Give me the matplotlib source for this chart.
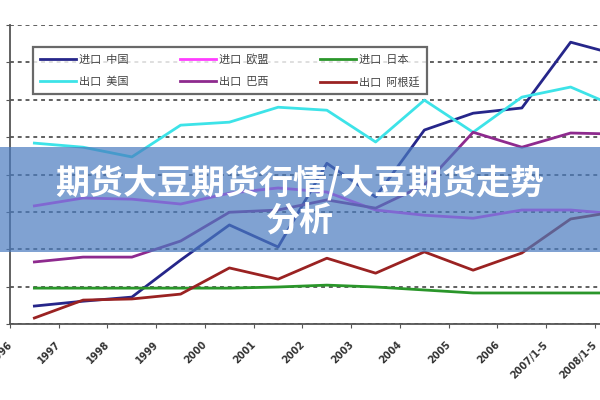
import matplotlib
matplotlib.use("Agg")
import matplotlib.pyplot as plt
from matplotlib.patches import Rectangle
from matplotlib.transforms import ScaledTranslation
import numpy as np

plt.rcParams['font.family'] = ['Noto Sans CJK SC', 'DejaVu Sans']

categories = ["1996", "1997", "1998", "1999", "2000", "2001", "2002",
              "2003", "2004", "2005", "2006", "2007/1-5", "2008/1-5"]

import_china = [0.48, 0.61, 0.72, 1.71, 2.65, 2.06, 4.30, 3.40, 5.19, 5.64, 5.78, 7.54, 7.19]
import_eu = [3.16, 3.37, 3.34, 3.21, 3.50, 3.64, 3.53, 3.05, 2.91, 2.83, 3.05, 3.05, 2.94]
import_japan = [0.96, 0.96, 0.96, 0.96, 0.96, 0.99, 1.04, 0.99, 0.91, 0.83, 0.83, 0.83, 0.83]
export_us = [4.84, 4.73, 4.47, 5.32, 5.40, 5.80, 5.72, 4.87, 5.99, 5.13, 6.07, 6.34, 5.78]
export_brazil = [1.66, 1.79, 1.79, 2.22, 2.99, 3.05, 3.32, 3.10, 3.72, 5.13, 4.73, 5.11, 5.08]
export_argentina = [0.16, 0.64, 0.67, 0.80, 1.50, 1.20, 1.76, 1.36, 1.93, 1.44, 1.90, 2.81, 3.02]

labels = {
    "cn": "进口  中国", "eu": "进口  欧盟", "jp": "进口  日本",
    "us": "出口  美国", "br": "出口  巴西", "ar": "出口  阿根廷",
}
title_text = "期货大豆期货行情/大豆期货走势\n分析"

fig = plt.figure(figsize=(6, 4), dpi=100)
fig.patch.set_facecolor("white")
ax = fig.add_axes([10 / 600, 76 / 400, 633.75 / 600, 299 / 400])

x = np.arange(len(categories))
lw = 2.0
h_cn, = ax.plot(x, import_china, color="#26268a", lw=lw, label=labels["cn"])
h_us, = ax.plot(x, export_us, color="#3de3e8", lw=lw, label=labels["us"])
h_eu, = ax.plot(x, import_eu, color="#ff3cff", lw=lw, label=labels["eu"])
h_br, = ax.plot(x, export_brazil, color="#8e2a8e", lw=lw, label=labels["br"])
h_jp, = ax.plot(x, import_japan, color="#2a962a", lw=lw, label=labels["jp"])
h_ar, = ax.plot(x, export_argentina, color="#9a2222", lw=lw, label=labels["ar"])

ax.set_xlim(-0.5, len(categories) - 0.5)
ax.set_ylim(0, 8)
ax.set_yticks(range(9))
ax.set_yticklabels([])
ax.yaxis.grid(True, linestyle=(0, (2, 2)), color="#606060", linewidth=1.4)
ax.set_axisbelow(True)
ax.tick_params(axis="y", length=3, color="#555555", direction="out")

ax.set_xticks(x - 0.5)
ax.set_xticklabels(categories, rotation=45, ha="right", va="top",
                   rotation_mode="anchor", fontsize=7, color="#333333",
                   family="DejaVu Sans", fontweight="bold")
ax.tick_params(axis="x", length=3, color="#555555", pad=8)
shift = ScaledTranslation(-3 / 100, 0, fig.dpi_scale_trans)
for lab in ax.get_xticklabels():
    lab.set_transform(lab.get_transform() + shift)

for s in ["top", "right"]:
    ax.spines[s].set_visible(False)
for s in ["left", "bottom"]:
    ax.spines[s].set_color("#555555")
    ax.spines[s].set_linewidth(1.3)

leg = ax.legend(handles=[h_cn, h_us, h_eu, h_br, h_jp, h_ar], ncol=3,
                loc="upper left", bbox_to_anchor=(33 / 600, 1 - 47 / 400),
                bbox_transform=fig.transFigure, fontsize=8, frameon=True,
                fancybox=False, edgecolor="#444444", handlelength=3.3,
                handletextpad=0.25, columnspacing=4.6, labelspacing=1.1,
                borderpad=0.6, borderaxespad=0)
leg.get_frame().set_linewidth(1.6)
for t in leg.get_texts():
    t.set_color("#444444")

fig.add_artist(Rectangle((0, (400 - 252) / 400), 1, 105 / 400,
                         transform=fig.transFigure, facecolor="#4a7bc0",
                         edgecolor="none", alpha=0.7, zorder=10))
fig.text(0.5, 1 - 202 / 400, title_text, ha="center", va="center",
         color="white", fontsize=24.5, fontweight="bold", linespacing=1.1,
         zorder=11)

fig.savefig("out.png", dpi=100)
